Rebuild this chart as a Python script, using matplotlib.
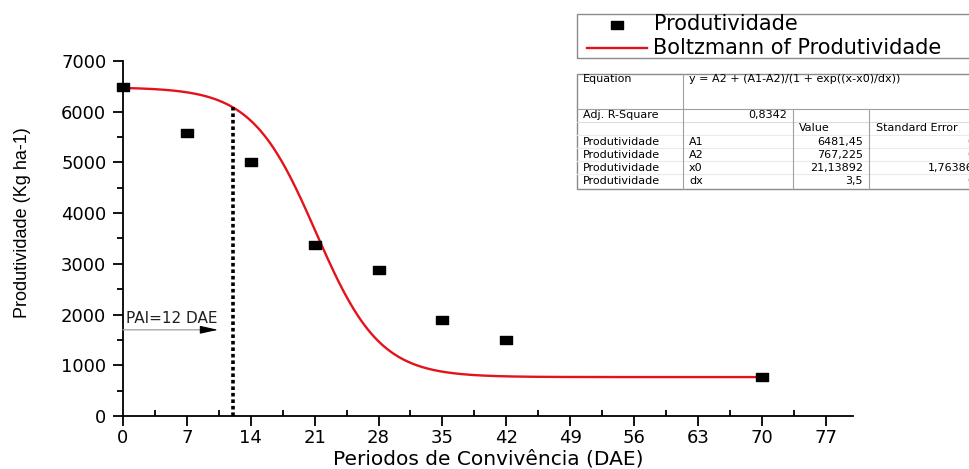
import numpy as np
import matplotlib
matplotlib.use("Agg")
import matplotlib.pyplot as plt
from matplotlib.path import Path
from matplotlib.lines import Line2D
from matplotlib.patches import Rectangle
from matplotlib.ticker import MultipleLocator

# ---------------- data ----------------
dae = [0, 7, 14, 21, 28, 35, 42, 70]
produtividade = [6480, 5575, 5000, 3380, 2870, 1890, 1500, 770]
A1, A2, x0, dx = 6481.45, 767.225, 21.13892, 3.5
pai = 12
xticks = [0, 7, 14, 21, 28, 35, 42, 49, 56, 63, 70, 77]
yticks = [0, 1000, 2000, 3000, 4000, 5000, 6000, 7000]
legend_labels = ["Produtividade", "Boltzmann of Produtividade"]
tbl_equation = "y = A2 + (A1-A2)/(1 + exp((x-x0)/dx))"
tbl_r2 = "0,8342"
tbl_params = ["A1", "A2", "x0", "dx"]
tbl_values = ["6481,45", "767,225", "21,13892", "3,5"]
tbl_errors = ["0", "0", "1,76386", "0"]

plt.rcParams['font.family'] = ['DejaVu Sans']

W, H = 969, 469
fig = plt.figure(figsize=(W / 100, H / 100), dpi=100)

def fx(x):
    return x / W

def fy(y):
    return 1 - y / H

ax = fig.add_axes([fx(123), fy(416), fx(853) - fx(123), fy(61) - fy(416)])

def boltz(x):
    return A2 + (A1 - A2) / (1 + np.exp((x - x0) / dx))

xc = np.linspace(0, 70, 400)
ax.plot(xc, boltz(xc), color='#e3121b', lw=1.7, zorder=2)

rect = Path([(-1, -0.62), (1, -0.62), (1, 0.62), (-1, 0.62), (-1, -0.62)],
            [Path.MOVETO, Path.LINETO, Path.LINETO, Path.LINETO, Path.CLOSEPOLY])
ax.plot(dae, produtividade, linestyle='none', marker=rect, markersize=9,
        color='black', zorder=3, clip_on=False)

ax.plot([pai, pai], [0, boltz(pai)], color='black', lw=2.6,
        linestyle=(0, (1, 0.8)), zorder=2)

ax.annotate("", xy=(10.2, 1700), xytext=(0, 1700),
            arrowprops=dict(arrowstyle='-', color='#a8a8a8', lw=1.0,
                            shrinkA=0, shrinkB=0))
ax.annotate("", xy=(10.4, 1700), xytext=(8.5, 1700),
            arrowprops=dict(arrowstyle='-|>,head_length=0.9,head_width=0.2',
                            color='black', lw=0.8,
                            mutation_scale=12, shrinkA=0, shrinkB=0))
ax.text(0.35, 1930, "PAI=12 DAE", fontsize=11, color='#202020',
        va='center', ha='left')

ax.set_xlim(0, 80)
ax.set_ylim(0, 7000)
ax.set_xticks(xticks)
ax.set_yticks(yticks)
ax.xaxis.set_minor_locator(MultipleLocator(3.5))
ax.yaxis.set_minor_locator(MultipleLocator(500))
ax.spines['top'].set_visible(False)
ax.spines['right'].set_visible(False)
for s in ('left', 'bottom'):
    ax.spines[s].set_linewidth(1.3)
ax.tick_params(axis='both', which='major', direction='out', length=7,
               width=1.3, labelsize=13)
ax.tick_params(axis='y', which='major', pad=5)
ax.tick_params(axis='x', which='major', pad=2)
ax.tick_params(axis='x', which='minor', direction='in', length=4, width=1.3)
ax.tick_params(axis='y', which='minor', direction='out', length=4, width=1.3)
ax.set_xlabel("Periodos de Convivência (DAE)", fontsize=14.5, va='center')
ax.xaxis.set_label_coords(0.5, (416 - 459) / 355)
ax.set_ylabel("Produtividade (Kg ha-1)", fontsize=13,
              family=['Liberation Sans'], va='center')
ax.yaxis.set_label_coords((22 - 123) / 730, (416 - 223) / 355)

# ---------------- legend box ----------------
fig.add_artist(Rectangle((fx(577), fy(58)), fx(1000) - fx(577), fy(14) - fy(58),
                         transform=fig.transFigure, fill=False,
                         edgecolor='#8a8a8a', lw=1.0))
fig.add_artist(Line2D([fx(617)], [fy(25)], marker=rect, markersize=9,
                      color='black', linestyle='none', transform=fig.transFigure))
fig.add_artist(Line2D([fx(587), fx(647)], [fy(48), fy(48)], color='#e3121b',
                      lw=1.7, transform=fig.transFigure))
fig.text(fx(654), fy(24.5), legend_labels[0], fontsize=15, va='center', ha='left')
fig.text(fx(653), fy(48.5), legend_labels[1], fontsize=15, va='center', ha='left')

# ---------------- statistics table ----------------
tl, tt, tb = 577, 74, 189
c1, c2, c3 = 683, 793, 869
grey = '#a0a0a0'
fig.add_artist(Rectangle((fx(tl), fy(tb)), fx(1000) - fx(tl), fy(tt) - fy(tb),
                         transform=fig.transFigure, fill=False,
                         edgecolor='#8a8a8a', lw=1.0))

def hline(y, x1=tl, x2=1000, c=grey):
    fig.add_artist(Line2D([fx(x1), fx(x2)], [fy(y), fy(y)], color=c, lw=0.8,
                          transform=fig.transFigure))

def vline(x, y1, y2, c=grey):
    fig.add_artist(Line2D([fx(x), fx(x)], [fy(y1), fy(y2)], color=c, lw=0.8,
                          transform=fig.transFigure))

hline(109)
hline(122, c='#dcdcdc')
for ry in (135, 148, 161, 174):
    hline(ry, c='#ebebeb')
vline(c1, tt, tb)
vline(c2, 109, tb)
vline(c3, 109, tb)

tfs = 8
fig.text(fx(583), fy(79), "Equation", fontsize=tfs, va='center')
fig.text(fx(689), fy(79), tbl_equation, fontsize=tfs, va='center')
fig.text(fx(583), fy(115), "Adj. R-Square", fontsize=tfs, va='center')
fig.text(fx(787), fy(115), tbl_r2, fontsize=tfs, va='center', ha='right')
fig.text(fx(799), fy(128), "Value", fontsize=tfs, va='center')
fig.text(fx(876), fy(128), "Standard Error", fontsize=tfs, va='center')
row_y = [142, 155, 168, 181]
for ry, p, v, e in zip(row_y, tbl_params, tbl_values, tbl_errors):
    fig.text(fx(583), fy(ry), "Produtividade", fontsize=tfs, va='center')
    fig.text(fx(689), fy(ry), p, fontsize=tfs, va='center')
    fig.text(fx(863), fy(ry), v, fontsize=tfs, va='center', ha='right')
    fig.text(fx(974), fy(ry), e, fontsize=tfs, va='center', ha='right')

fig.savefig("out.png", dpi=100)
